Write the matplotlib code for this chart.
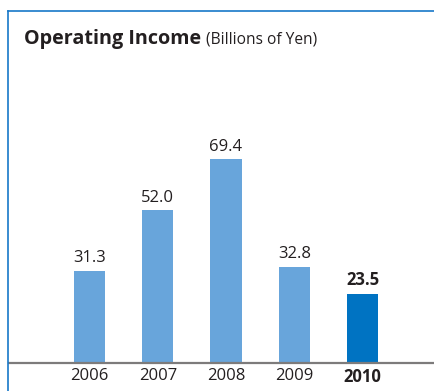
import matplotlib.pyplot as plt
from matplotlib.lines import Line2D

plt.rcParams['font.family'] = ['Open Sans', 'DejaVu Sans']

# Operating income by fiscal year (billions of yen)
years = ['2006', '2007', '2008', '2009', '2010']
income = [31.3, 52.0, 69.4, 32.8, 23.5]
colors = ['#68a5db', '#68a5db', '#68a5db', '#68a5db', '#0073c2']

W, H = 435, 391
fig = plt.figure(figsize=(W / 100, H / 100), dpi=100)

# axes spans from the left frame line to the right edge, baseline at the bottom
ax = fig.add_axes([8.5 / W, (H - 362.7) / H, 1 - 8.5 / W, (362.7 - 11) / H])
x = list(range(len(years)))
ax.bar(x, income, width=0.455, color=colors, zorder=2)
ax.set_xlim(-1.187, 5.062)
ax.set_ylim(0, 120)

for i, v in enumerate(income):
    bold = (i == len(income) - 1)
    ax.text(i, v + 1.6, f'{v:.1f}', ha='center', va='bottom', fontsize=12,
            fontweight='bold' if bold else 'normal', color='#231f20')

ax.set_xticks(x)
ax.set_xticklabels(years, fontsize=12, color='#231f20')
ax.get_xticklabels()[-1].set_fontweight('bold')
ax.tick_params(axis='x', length=0, pad=4)
ax.set_yticks([])

for s in ['left', 'right', 'top']:
    ax.spines[s].set_visible(False)
ax.spines['bottom'].set_color('#7d7b7b')
ax.spines['bottom'].set_linewidth(1.6)

# blue frame on the top and left
fig.add_artist(Line2D([8.5 / W, 1], [1 - 11 / H, 1 - 11 / H], color='#1878c8', lw=1.2))
fig.add_artist(Line2D([8.5 / W, 8.5 / W], [0, 1 - 11 / H], color='#1878c8', lw=1.2))

# title
t = fig.text(24 / W, 1 - 44 / H, 'Operating Income', fontsize=14.2, fontweight='bold',
             color='#231f20', va='baseline')
fig.canvas.draw()
bb = t.get_window_extent()
fig.text(bb.x1 / W + 5 / W, 1 - 44 / H, '(Billions of Yen)', fontsize=11.2,
         color='#231f20', va='baseline')

fig.savefig('out.png', dpi=100)
